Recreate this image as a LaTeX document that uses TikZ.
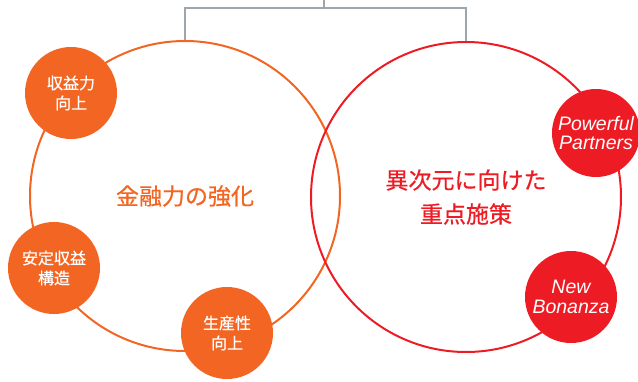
\documentclass[tikz,border=0pt]{standalone}
\usepackage{fontspec}
\newfontfamily\jpfont[FakeBold=0.6]{Noto Sans CJK JP}
\newfontfamily\latinfont{Liberation Sans}
\usetikzlibrary{positioning}
\definecolor{kinyuorange}{HTML}{F26522}
\definecolor{jigenred}{HTML}{ED1C24}
\definecolor{linegray}{HTML}{9DA5AD}

\tikzset{
  bigring/.style={circle, draw, line width=2pt, minimum size=310pt, inner sep=0pt,
    align=center, font=\jpfont\fontsize{23}{34}\selectfont},
  dot/.style={circle, draw=none, minimum size=92pt, inner sep=0pt, text=white, align=center},
  jpdot/.style={dot, font=\jpfont\fontsize{16}{20}\selectfont},
  endot/.style={dot, font=\latinfont\itshape\fontsize{19.5}{19.5}\selectfont}
}

\begin{document}
\begin{tikzpicture}[x=1pt, y=-1pt]
        \useasboundingbox (0,0) rectangle (638,381);

        % two big rings
        \node[bigring, draw=kinyuorange, text=kinyuorange] (kinyu) at (185, 196) {金融力の強化};
        \node[bigring, draw=jigenred, text=jigenred] (jigen) at (466, 197) {異次元に向けた\\重点施策};

        % tree on top
        \coordinate (top) at (324, 0);
        \coordinate (branch) at (324, 8);
        \draw[linegray, line width=1.3pt] (top) -- (branch) -| (kinyu.north)
            (branch) -| (jigen.north);

        % orange dots
        \node[jpdot, fill=kinyuorange] (shueki) at (71, 93) {収益力\\向上};
        \node[jpdot, fill=kinyuorange] (antei) at (54, 268) {安定収益\\構造};
        \node[jpdot, fill=kinyuorange] (seisan) at (227, 333) {生産性\\向上};

        % red dots
        \node[endot, fill=jigenred, minimum size=88pt] (partners) at (596, 133) {Powerful\\Partners};
        \node[endot, fill=jigenred] (bonanza) at (571, 297) {New\\Bonanza};
\end{tikzpicture}
\end{document}
